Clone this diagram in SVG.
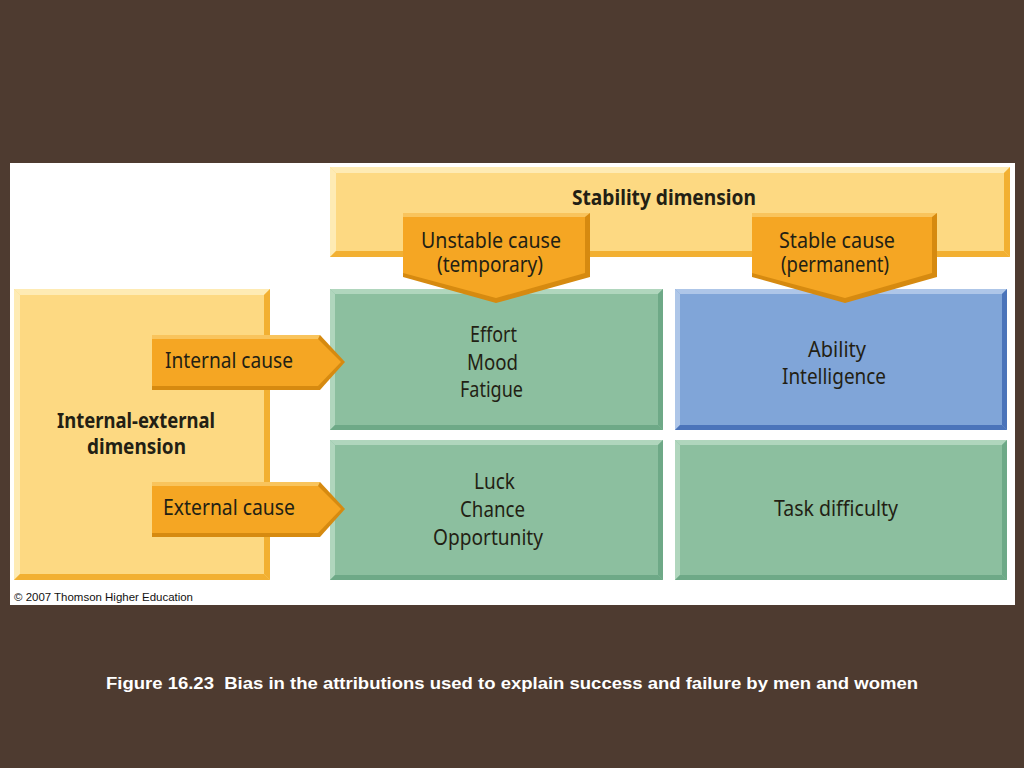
<svg xmlns="http://www.w3.org/2000/svg" width="1024" height="768" viewBox="0 0 1024 768">
<defs>
<style>
.t{font-family:"Noto Sans","Open Sans","Liberation Sans",sans-serif;font-size:22px;fill:#231f14;}
.b{font-weight:bold;}
.yf{fill:#fdd982;} .yl{fill:#feebb4;} .yd{fill:#f2b032;}
.of{fill:#f5a623;} .ol{fill:#f9c45c;} .od{fill:#d68a10;}
.gf{fill:#8cbf9f;} .gl{fill:#b0d6bd;} .gd{fill:#6ea987;}
.bf{fill:#80a5d8;} .bl{fill:#aec6e8;} .bd{fill:#4b74ba;}
.copy{font-family:"Liberation Sans",Arial,sans-serif;font-size:11px;fill:#111;}
.cap{font-family:"Liberation Sans",Arial,sans-serif;font-size:16px;font-weight:bold;fill:#ffffff;}
</style>
</defs>
<rect x="0" y="0" width="1024" height="768" fill="#4e3b30"/>
<rect x="10" y="163" width="1005" height="442" fill="#ffffff"/>

<g id="stability-dimension">
<rect class="yf" x="330" y="167" width="680" height="90"/>
<polygon class="yl" points="330,167 1010,167 1004,173 336,173"/>
<polygon class="yl" points="330,167 336,173 336,251 330,257"/>
<polygon class="yd" points="1010,167 1010,257 1004,251 1004,173"/>
<polygon class="yd" points="330,257 1010,257 1004,251 336,251"/>
<text class="t b" x="572" y="205" font-size="24" textLength="184" lengthAdjust="spacingAndGlyphs">Stability dimension</text>
</g>

<g id="internal-external-dimension">
<rect class="yf" x="14" y="289" width="256" height="291"/>
<polygon class="yl" points="14,289 270,289 264,295 20,295"/>
<polygon class="yl" points="14,289 20,295 20,574 14,580"/>
<polygon class="yd" points="270,289 270,580 264,574 264,295"/>
<polygon class="yd" points="14,580 270,580 264,574 20,574"/>
<text class="t b" x="57" y="428" textLength="158" lengthAdjust="spacingAndGlyphs">Internal-external</text>
<text class="t b" x="87" y="454" textLength="99" lengthAdjust="spacingAndGlyphs">dimension</text>
</g>

<g id="cell-unstable-internal">
<rect class="gf" x="330" y="289" width="333" height="141"/>
<polygon class="gl" points="330,289 663,289 658,294 335,294"/>
<polygon class="gl" points="330,289 335,294 335,425 330,430"/>
<polygon class="gd" points="663,289 663,430 658,425 658,294"/>
<polygon class="gd" points="330,430 663,430 658,425 335,425"/>
<text class="t" x="470" y="342" textLength="47" lengthAdjust="spacingAndGlyphs">Effort</text>
<text class="t" x="467" y="370" textLength="51" lengthAdjust="spacingAndGlyphs">Mood</text>
<text class="t" x="460" y="397" textLength="63" lengthAdjust="spacingAndGlyphs">Fatigue</text>
</g>

<g id="cell-stable-internal">
<rect class="bf" x="675" y="289" width="332" height="141"/>
<polygon class="bl" points="675,289 1007,289 1002,294 680,294"/>
<polygon class="bl" points="675,289 680,294 680,425 675,430"/>
<polygon class="bd" points="1007,289 1007,430 1002,425 1002,294"/>
<polygon class="bd" points="675,430 1007,430 1002,425 680,425"/>
<text class="t" x="808" y="357" textLength="58" lengthAdjust="spacingAndGlyphs">Ability</text>
<text class="t" x="782" y="384" textLength="104" lengthAdjust="spacingAndGlyphs">Intelligence</text>
</g>

<g id="cell-unstable-external">
<rect class="gf" x="330" y="440" width="333" height="140"/>
<polygon class="gl" points="330,440 663,440 658,445 335,445"/>
<polygon class="gl" points="330,440 335,445 335,575 330,580"/>
<polygon class="gd" points="663,440 663,580 658,575 658,445"/>
<polygon class="gd" points="330,580 663,580 658,575 335,575"/>
<text class="t" x="474" y="489" textLength="41" lengthAdjust="spacingAndGlyphs">Luck</text>
<text class="t" x="460" y="517" textLength="65" lengthAdjust="spacingAndGlyphs">Chance</text>
<text class="t" x="433" y="545" textLength="110" lengthAdjust="spacingAndGlyphs">Opportunity</text>
</g>

<g id="cell-stable-external">
<rect class="gf" x="675" y="440" width="332" height="140"/>
<polygon class="gl" points="675,440 1007,440 1002,445 680,445"/>
<polygon class="gl" points="675,440 680,445 680,575 675,580"/>
<polygon class="gd" points="1007,440 1007,580 1002,575 1002,445"/>
<polygon class="gd" points="675,580 1007,580 1002,575 680,575"/>
<text class="t" x="774" y="516" textLength="124" lengthAdjust="spacingAndGlyphs">Task difficulty</text>
</g>

<g id="connectors">
<g id="unstable-cause">
<polygon class="od" points="403,213 590,213 590,277 496,303 403,277"/>
<polygon class="of" points="403,217 585,217 585,273 496,298 403,273"/>
<polygon class="ol" points="403,213 590,213 585,217 403,217"/>
<text class="t" x="421" y="248" textLength="140" lengthAdjust="spacingAndGlyphs">Unstable cause</text>
<text class="t" x="437" y="272" textLength="106" lengthAdjust="spacingAndGlyphs">(temporary)</text>
</g>
<g id="stable-cause">
<polygon class="od" points="752,213 937,213 937,277 845,303 752,277"/>
<polygon class="of" points="752,217 932,217 932,273 845,298 752,273"/>
<polygon class="ol" points="752,213 937,213 932,217 752,217"/>
<text class="t" x="779" y="248" textLength="116" lengthAdjust="spacingAndGlyphs">Stable cause</text>
<text class="t" x="781" y="272" textLength="108" lengthAdjust="spacingAndGlyphs">(permanent)</text>
</g>
<g id="internal-cause">
<polygon class="od" points="152,335 320,335 345,362 320,390 152,390"/>
<polygon class="of" points="152,339 318,339 341,362 318,386 152,386"/>
<polygon class="ol" points="152,335 320,335 318,339 152,339"/>
<text class="t" x="165" y="368" textLength="128" lengthAdjust="spacingAndGlyphs">Internal cause</text>
</g>
<g id="external-cause">
<polygon class="od" points="152,482 320,482 345,509 320,537 152,537"/>
<polygon class="of" points="152,486 318,486 341,509 318,533 152,533"/>
<polygon class="ol" points="152,482 320,482 318,486 152,486"/>
<text class="t" x="163" y="515" textLength="132" lengthAdjust="spacingAndGlyphs">External cause</text>
</g>
</g>

<text class="copy" x="14" y="601" textLength="179" lengthAdjust="spacingAndGlyphs">© 2007 Thomson Higher Education</text>
<text class="cap" x="106" y="689" textLength="812" lengthAdjust="spacingAndGlyphs" xml:space="preserve">Figure 16.23  Bias in the attributions used to explain success and failure by men and women</text>
</svg>
